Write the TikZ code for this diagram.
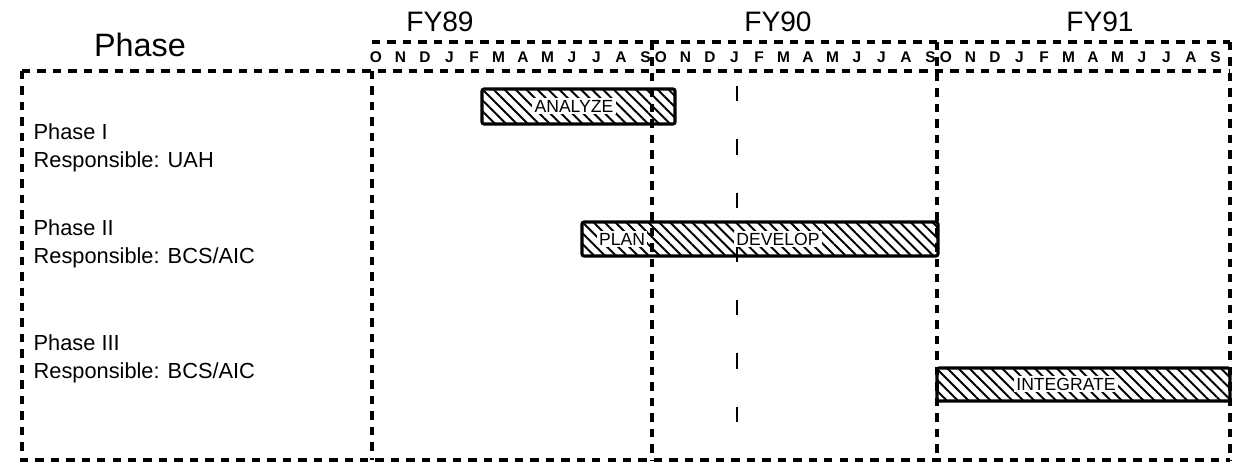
\documentclass[tikz,border=0pt]{standalone}
\usepackage{fontspec}
\setmainfont{Liberation Sans}
\usetikzlibrary{patterns.meta}

\begin{document}
\begin{tikzpicture}[
    x=0.025cm, y=-0.025cm,
    every node/.style={inner sep=1pt},
    frame/.style={line width=2.4pt, dash pattern=on 6pt off 5pt},
    nowline/.style={line width=1.6pt, dash pattern=on 11pt off 27pt},
    bar/.style={draw, line width=2.2pt, rounded corners=1.5pt,
      pattern={Lines[angle=-45,distance=5.5pt,line width=1.4pt]}},
    barlabel/.style={fill=white, font=\fontsize{12.5}{14}\selectfont, inner sep=1.5pt},
    head/.style={font=\fontsize{20}{23}\selectfont},
    month/.style={font=\fontsize{11}{13}\selectfont\bfseries},
    phase/.style={font=\fontsize{15.5}{18}\selectfont, anchor=west}
]
\useasboundingbox (0,0) rectangle (1239,471);

% headings
\node[head, font=\fontsize{23}{26}\selectfont] (phasehead) at (140,45) {Phase};
\node[head] (fy89) at (440,22) {FY89};
\node[head] (fy90) at (778,22) {FY90};
\node[head] (fy91) at (1100,22) {FY91};

% month row
\foreach \y/\xo in {89/376, 90/661, 91/946}
  \foreach \m [count=\i from 0] in {O,N,D,J,F,M,A,M,J,J,A,S}
    \node[month] (m\y-\i) at (\xo+\i*24.5,57) {\m};

% frames
\draw[frame] (372,42) -- (1230,42);
\draw[frame] (22,71) -- (1230,71);
\draw[frame] (22,71) -- (22,460) -- (1230,460);
\draw[frame] (1230,42) -- (1230,460);
\draw[frame] (372,71) -- (372,460);
\draw[frame] (652,42) -- (652,460);
\draw[frame] (937,42) -- (937,460);
\draw[nowline] (737,86) -- (737,460);

% phases
\node[phase] (p1) at (32,132) {Phase I};
\node[phase] (r1) at (32,162) {Responsible: UAH};
\node[phase] (p2) at (32,228) {Phase II};
\node[phase] (r2) at (32,258) {Responsible: BCS/AIC};
\node[phase] (p3) at (32,343) {Phase III};
\node[phase] (r3) at (32,373) {Responsible: BCS/AIC};

% bars
\draw[bar] (482,89) rectangle (675,124);
\node[barlabel] (analyze) at (574,106) {ANALYZE};
\draw[bar] (582,222) rectangle (938,256);
\node[barlabel] (plan) at (622,239) {PLAN};
\node[barlabel] (develop) at (778,239) {DEVELOP};
\draw[bar] (937,368) rectangle (1230,401);
\node[barlabel] (integrate) at (1066,384) {INTEGRATE};

\end{tikzpicture}
\end{document}
